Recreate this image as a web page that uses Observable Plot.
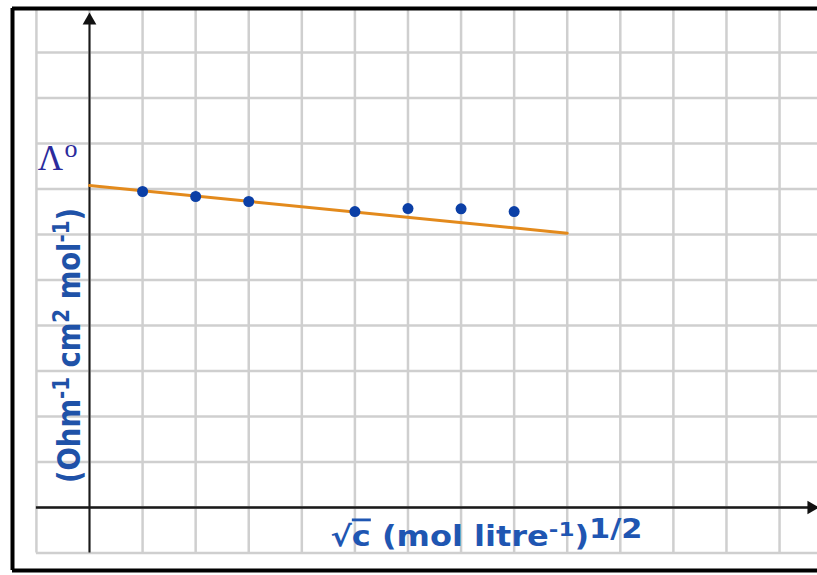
<!DOCTYPE html>
<html><head><meta charset="utf-8">
<script src="https://cdn.jsdelivr.net/npm/d3@7"></script>
<script src="https://cdn.jsdelivr.net/npm/@observablehq/plot@0.6"></script>
<style>body{margin:0;background:#fff;overflow:hidden}</style>
</head><body><div id="chart"></div>
<script>
// measured points: sqrt(c) in grid units, molar conductance in grid units
const xValues = [1, 2, 3, 5, 6, 7, 8];
const yValues = [6.945, 6.835, 6.725, 6.505, 6.57, 6.565, 6.505];
// straight-line extrapolation towards Λ°
const fitX = [0, 9];
const fitY = [7.077, 6.03];
// grid lines
const gridX = d3.range(-1, 14);
const gridY = d3.range(-1, 11);
// text
const lambdaSymbol = "Λ";
const lambdaSup = "o";
const yLabelParts = [["(Ohm", 0], ["-1", 1], [" cm", 0], ["2", 1], [" mol", 0], ["-1", 1], [")", 0]];
const xLabelParts = [["√", 0], ["c", 0], [" (mol litre", 0], ["-1", 1], [")", 0], ["1/2", 2]];

const xDomain = [-1.4506, 13.715];
const yDomain = [-1.3846, 10.967];
const points = xValues.map((x, i) => ({x, y: yValues[i]}));
const fit = fitX.map((x, i) => ({x, y: fitY[i]}));

const chart = Plot.plot({
  width: 817, height: 575,
  marginLeft: 12, marginRight: 0, marginTop: 8, marginBottom: 5,
  x: {domain: xDomain, axis: null},
  y: {domain: yDomain, axis: null},
  marks: [
    Plot.ruleX(gridX, {y1: -1, y2: yDomain[1], stroke: "#cfcfcf", strokeWidth: 2.5}),
    Plot.ruleY(gridY, {x1: -1, x2: xDomain[1], stroke: "#cfcfcf", strokeWidth: 2.5}),
    // axes
    Plot.ruleX([0], {y1: -1, y2: 10.7, stroke: "#1a1a1a", strokeWidth: 2}),
    Plot.ruleY([0], {x1: -1, x2: 13.6, stroke: "#1a1a1a", strokeWidth: 2.5}),
    Plot.dot([0], {x: 0, y: 10.703, symbol: "triangle", r: 5.1, fill: "#111", stroke: "none"}),
    Plot.dot([0], {x: 13.6, y: 0, symbol: "triangle", r: 5.1, fill: "#111", stroke: "none", rotate: 90}),
    // frame
    Plot.ruleX([xDomain[0]], {stroke: "#000", strokeWidth: 4}),
    Plot.ruleY([yDomain[0], yDomain[1]], {stroke: "#000", strokeWidth: 4}),
    // data
    Plot.line(fit, {x: "x", y: "y", stroke: "#e38a1c", strokeWidth: 3}),
    Plot.dot(points, {x: "x", y: "y", r: 5.5, fill: "#0b3fa6", stroke: "none"}),
    // labels
    Plot.text([lambdaSymbol], {x: -0.735, y: 7.407, text: d => d, lineAnchor: "bottom", fontFamily: "Liberation Serif", fontSize: 35, fill: "#2b2b9c"}),
    Plot.text([lambdaSup], {x: -0.349, y: 7.714, text: d => d, lineAnchor: "bottom", fontFamily: "Liberation Serif", fontSize: 26, fill: "#2b2b9c"}),
    Plot.text(["ylab"], {x: -0.188, y: 3.56, text: d => d, rotate: -90, lineAnchor: "bottom", fontFamily: "DejaVu Sans", fontWeight: "bold", fontSize: 32, fill: "#1f52a8", className: "ylab"}),
    Plot.text(["xlab"], {x: 4.54, y: -0.857, text: d => d, textAnchor: "start", lineAnchor: "bottom", fontFamily: "DejaVu Sans", fontWeight: "bold", fontSize: 28, fill: "#1f56b2", className: "xlab"})
  ]
});
document.getElementById("chart").append(chart);

function fillParts(textEl, parts, opts) {
  const sel = d3.select(textEl);
  sel.text(null);
  let shift = 0;
  parts.forEach(([t, kind], i) => {
    const sc = kind === 1 ? opts.supScale : kind === 2 ? opts.sup2Scale : 1;
    const target = kind === 1 ? -opts.supShift : kind === 2 ? -opts.sup2Shift : 0;
    const ts = sel.append("tspan").text(t);
    if (sc !== 1) ts.attr("font-size", sc + "em");
    if (target - shift !== 0) ts.attr("dy", target - shift);
    if (opts.overline && t === opts.overline) ts.style("text-decoration", "overline");
    shift = target;
  });
  if (opts.length) sel.attr("textLength", opts.length).attr("lengthAdjust", "spacingAndGlyphs");
}
fillParts(chart.querySelector("g.ylab text"), yLabelParts, {supScale: 0.72, supShift: 11, length: 275});
fillParts(chart.querySelector("g.xlab text"), xLabelParts, {supScale: 0.72, supShift: 10, sup2Scale: 0.95, sup2Shift: 8, length: 312, overline: "c"});
</script>
</body></html>
